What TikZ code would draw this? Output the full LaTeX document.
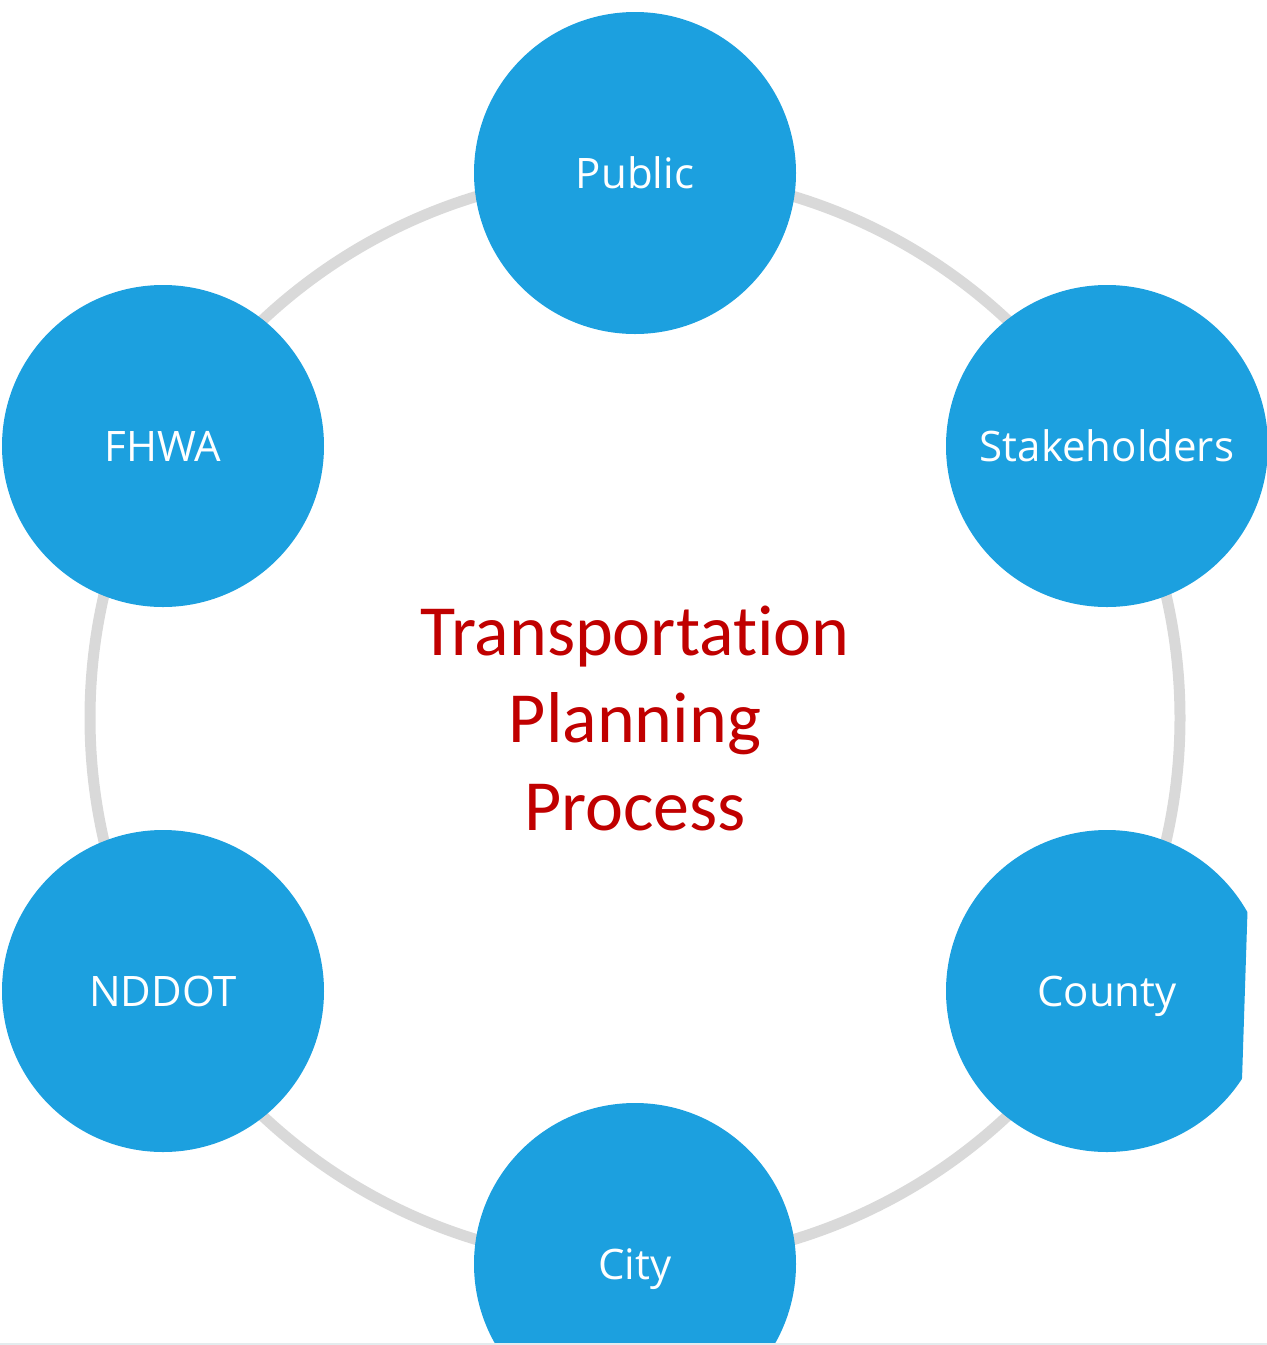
\documentclass[tikz,border=0pt]{standalone}
\usepackage{fontspec}
\setmainfont{Carlito}[Ligatures={NoCommon,NoContextual}]
\newfontfamily\labelfont{Open Sans}
\definecolor{circblue}{HTML}{1CA0DF}
\definecolor{ringgray}{HTML}{D9D9D9}
\definecolor{titlered}{HTML}{C00000}
\definecolor{edgeline}{HTML}{E4ECEE}
\begin{document}
\begin{tikzpicture}[x=1pt,y=-1pt,
  member/.style={circle, fill=circblue, draw=none, minimum size=322pt, inner sep=0pt,
    text=white, font=\labelfont\fontsize{42}{50}\selectfont, text height=30pt, text depth=0pt},
  ring/.style={draw=ringgray, line width=11pt},
  title/.style={text=titlered, align=center, inner sep=0pt,
    font=\fontsize{72}{87.5}\selectfont}]
\useasboundingbox (0,0) rectangle (1267,1345);
\coordinate (hub) at (635,718);
\begin{scope}
\clip (0,0) rectangle (1267,1343);
\draw[ring] (hub) circle[radius=545pt];
\node[member] (public) at (635,173) {Public};
\node[member] (stake) at (1107,446) {Stakeholders};
\node[member] (fhwa) at (163,446) {FHWA};
\node[member] (nddot) at (163,991) {NDDOT};
\node[member] (city) at (635,1264) {City};
\begin{scope}
\clip (900,820) -- (1247.5,820) -- (1247.5,911) -- (1242,1080) -- (1242,1170) -- (900,1170) -- cycle;
\node[member] (county) at (1107,991) {County};
\end{scope}
\end{scope}
\fill[edgeline] (0,1343) rectangle (1267,1345);
\node[title] (tpp) at (hub) {Transportation\\Planning\\Process};
\end{tikzpicture}
\end{document}
